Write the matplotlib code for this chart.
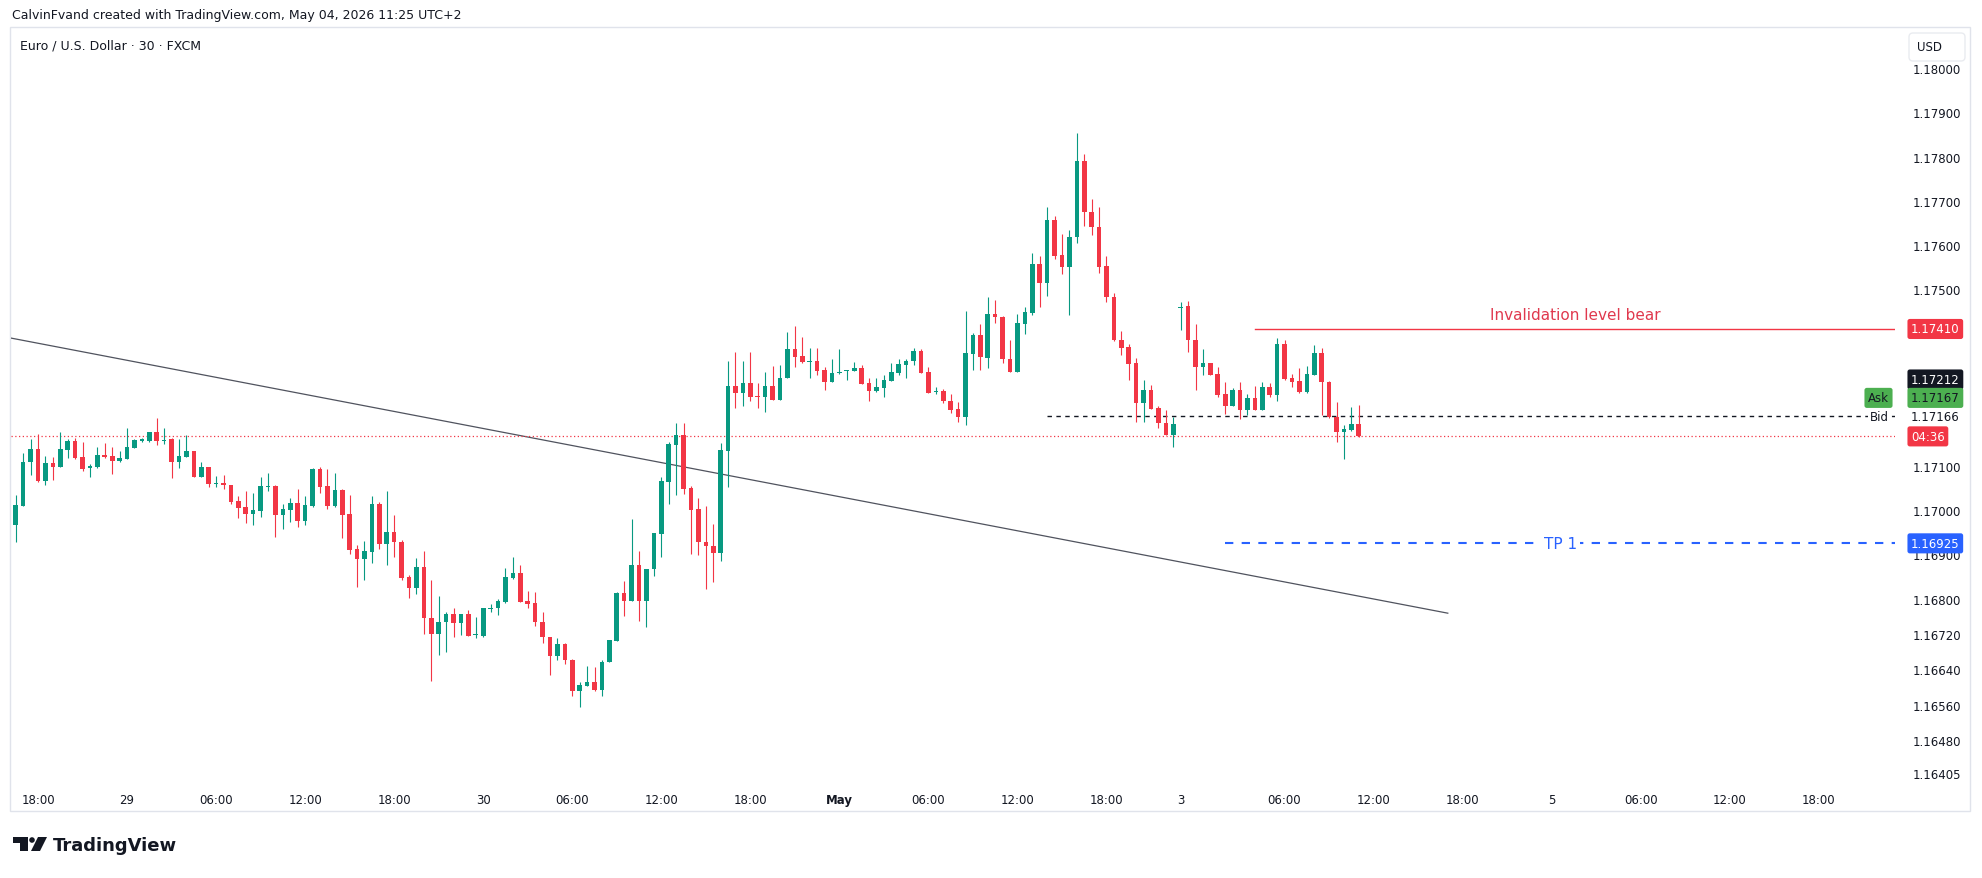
import numpy as np
import pandas as pd
import matplotlib
matplotlib.use("Agg")
import matplotlib.pyplot as plt
import matplotlib.transforms as mtransforms
from matplotlib.patches import Rectangle, FancyBboxPatch, Polygon, Circle

plt.rcParams['font.family'] = ['DejaVu Sans']

# --- data: EUR/USD 30 min candles (FXCM) ---
session1 = pd.date_range("2026-04-28 16:30", "2026-05-01 22:30", freq="30min")
session2 = pd.date_range("2026-05-03 23:00", "2026-05-04 11:00", freq="30min")
times = session1.append(session2)

opens = [
    1.16966, 1.17010, 1.17108, 1.17138, 1.17067, 1.17107, 1.17098, 1.17137, 1.17157, 1.17120,
    1.17095, 1.17098, 1.17125, 1.17123, 1.17111, 1.17116, 1.17141, 1.17157, 1.17157, 1.17176,
    1.17157, 1.17160, 1.17108, 1.17121, 1.17134, 1.17076, 1.17097, 1.17060, 1.17062, 1.17057,
    1.17020, 1.17007, 1.16992, 1.16999, 1.17053, 1.17055, 1.16990, 1.17000, 1.17016, 1.16976,
    1.17010, 1.17093, 1.17054, 1.17009, 1.17046, 1.16991, 1.16912, 1.16890, 1.16906, 1.17014,
    1.16924, 1.16950, 1.16928, 1.16849, 1.16823, 1.16872, 1.16755, 1.16721, 1.16746, 1.16765,
    1.16744, 1.16765, 1.16717, 1.16716, 1.16777, 1.16778, 1.16793, 1.16847, 1.16857, 1.16795,
    1.16790, 1.16748, 1.16712, 1.16671, 1.16697, 1.16661, 1.16590, 1.16603, 1.16611, 1.16594,
    1.16656, 1.16705, 1.16813, 1.16795, 1.16875, 1.16795, 1.16866, 1.16947, 1.17063, 1.17148,
    1.17170, 1.17050, 1.17003, 1.16927, 1.16920, 1.16903, 1.17135, 1.17282, 1.17265, 1.17288,
    1.17258, 1.17255, 1.17282, 1.17250, 1.17298, 1.17365, 1.17349, 1.17336, 1.17337, 1.17317,
    1.17289, 1.17311, 1.17315, 1.17314, 1.17322, 1.17288, 1.17270, 1.17277, 1.17293, 1.17310,
    1.17329, 1.17337, 1.17361, 1.17312, 1.17267, 1.17270, 1.17247, 1.17229, 1.17210, 1.17353,
    1.17396, 1.17345, 1.17445, 1.17437, 1.17342, 1.17312, 1.17421, 1.17446, 1.17557, 1.17513,
    1.17656, 1.17577, 1.17551, 1.17617, 1.17790, 1.17674, 1.17640, 1.17552, 1.17483, 1.17385,
    1.17369, 1.17333, 1.17243, 1.17273, 1.17231, 1.17197, 1.17169, 1.17457, 1.17461, 1.17385,
    1.17323, 1.17333, 1.17308, 1.17263, 1.17236, 1.17273, 1.17227, 1.17253, 1.17227, 1.17279,
    1.17261, 1.17376, 1.17299, 1.17292, 1.17268, 1.17306, 1.17356, 1.17291, 1.17210, 1.17178,
    1.17182, 1.17195,
]
highs = [
    1.17034, 1.17129, 1.17161, 1.17172, 1.17122, 1.17120, 1.17178, 1.17161, 1.17163, 1.17154,
    1.17104, 1.17144, 1.17152, 1.17144, 1.17133, 1.17185, 1.17160, 1.17164, 1.17177, 1.17209,
    1.17187, 1.17163, 1.17161, 1.17170, 1.17134, 1.17108, 1.17097, 1.17077, 1.17080, 1.17057,
    1.17033, 1.17043, 1.17038, 1.17074, 1.17084, 1.17057, 1.17013, 1.17027, 1.17048, 1.17031,
    1.17095, 1.17097, 1.17093, 1.17084, 1.17049, 1.17034, 1.16921, 1.16930, 1.17031, 1.17018,
    1.17043, 1.16989, 1.16933, 1.16853, 1.16892, 1.16907, 1.16842, 1.16807, 1.16769, 1.16779,
    1.16765, 1.16774, 1.16758, 1.16778, 1.16788, 1.16799, 1.16869, 1.16895, 1.16875, 1.16817,
    1.16816, 1.16769, 1.16712, 1.16710, 1.16700, 1.16663, 1.16611, 1.16647, 1.16645, 1.16661,
    1.16706, 1.16814, 1.16839, 1.16979, 1.16907, 1.16867, 1.16948, 1.17074, 1.17154, 1.17197,
    1.17197, 1.17055, 1.17027, 1.17010, 1.16969, 1.17152, 1.17337, 1.17359, 1.17338, 1.17359,
    1.17288, 1.17313, 1.17327, 1.17328, 1.17404, 1.17417, 1.17391, 1.17367, 1.17367, 1.17323,
    1.17343, 1.17365, 1.17318, 1.17336, 1.17329, 1.17299, 1.17299, 1.17307, 1.17333, 1.17342,
    1.17342, 1.17366, 1.17365, 1.17323, 1.17279, 1.17274, 1.17262, 1.17244, 1.17450, 1.17401,
    1.17421, 1.17482, 1.17475, 1.17439, 1.17386, 1.17445, 1.17459, 1.17583, 1.17574, 1.17687,
    1.17666, 1.17625, 1.17634, 1.17853, 1.17806, 1.17705, 1.17685, 1.17574, 1.17491, 1.17405,
    1.17376, 1.17344, 1.17295, 1.17284, 1.17236, 1.17227, 1.17210, 1.17472, 1.17474, 1.17421,
    1.17365, 1.17334, 1.17323, 1.17289, 1.17276, 1.17289, 1.17264, 1.17280, 1.17289, 1.17288,
    1.17390, 1.17384, 1.17308, 1.17322, 1.17327, 1.17374, 1.17368, 1.17293, 1.17244, 1.17193,
    1.17233, 1.17238,
]
lows = [
    1.16929, 1.17010, 1.17080, 1.17063, 1.17057, 1.17069, 1.17097, 1.17118, 1.17116, 1.17089,
    1.17074, 1.17095, 1.17119, 1.17083, 1.17108, 1.17116, 1.17141, 1.17155, 1.17155, 1.17148,
    1.17150, 1.17073, 1.17095, 1.17121, 1.17076, 1.17076, 1.17053, 1.17053, 1.17049, 1.17014,
    1.16982, 1.16971, 1.16967, 1.16985, 1.17043, 1.16940, 1.16958, 1.16973, 1.16963, 1.16967,
    1.17007, 1.17039, 1.17003, 1.17007, 1.16937, 1.16900, 1.16827, 1.16841, 1.16880, 1.16912,
    1.16877, 1.16895, 1.16841, 1.16802, 1.16810, 1.16719, 1.16614, 1.16672, 1.16679, 1.16712,
    1.16718, 1.16716, 1.16710, 1.16712, 1.16770, 1.16764, 1.16790, 1.16844, 1.16793, 1.16778,
    1.16737, 1.16700, 1.16628, 1.16660, 1.16651, 1.16579, 1.16554, 1.16603, 1.16592, 1.16579,
    1.16656, 1.16703, 1.16761, 1.16795, 1.16749, 1.16735, 1.16852, 1.16893, 1.17014, 1.17035,
    1.17037, 1.16902, 1.16899, 1.16822, 1.16837, 1.16884, 1.17052, 1.17232, 1.17236, 1.17248,
    1.17232, 1.17223, 1.17250, 1.17250, 1.17298, 1.17325, 1.17333, 1.17298, 1.17307, 1.17273,
    1.17289, 1.17308, 1.17295, 1.17314, 1.17286, 1.17246, 1.17268, 1.17255, 1.17293, 1.17307,
    1.17298, 1.17329, 1.17310, 1.17266, 1.17264, 1.17243, 1.17221, 1.17199, 1.17193, 1.17318,
    1.17318, 1.17322, 1.17423, 1.17333, 1.17312, 1.17312, 1.17399, 1.17442, 1.17460, 1.17485,
    1.17568, 1.17534, 1.17442, 1.17604, 1.17644, 1.17623, 1.17536, 1.17470, 1.17382, 1.17350,
    1.17295, 1.17199, 1.17199, 1.17230, 1.17187, 1.17169, 1.17144, 1.17408, 1.17357, 1.17272,
    1.17306, 1.17307, 1.17255, 1.17218, 1.17236, 1.17206, 1.17216, 1.17227, 1.17227, 1.17255,
    1.17248, 1.17295, 1.17279, 1.17265, 1.17265, 1.17306, 1.17215, 1.17208, 1.17155, 1.17116,
    1.17180, 1.17165,
]
closes = [
    1.17012, 1.17110, 1.17138, 1.17065, 1.17107, 1.17098, 1.17138, 1.17157, 1.17117, 1.17093,
    1.17101, 1.17125, 1.17120, 1.17111, 1.17117, 1.17142, 1.17159, 1.17160, 1.17176, 1.17157,
    1.17158, 1.17108, 1.17123, 1.17134, 1.17076, 1.17097, 1.17059, 1.17062, 1.17056, 1.17018,
    1.17005, 1.16992, 1.17000, 1.17054, 1.17055, 1.16990, 1.17002, 1.17016, 1.16976, 1.17012,
    1.17093, 1.17053, 1.17009, 1.17046, 1.16989, 1.16911, 1.16890, 1.16908, 1.17014, 1.16924,
    1.16950, 1.16927, 1.16847, 1.16823, 1.16872, 1.16755, 1.16721, 1.16746, 1.16765, 1.16744,
    1.16765, 1.16716, 1.16718, 1.16778, 1.16779, 1.16795, 1.16848, 1.16857, 1.16793, 1.16788,
    1.16746, 1.16712, 1.16671, 1.16697, 1.16660, 1.16590, 1.16605, 1.16611, 1.16594, 1.16656,
    1.16706, 1.16813, 1.16795, 1.16875, 1.16795, 1.16867, 1.16948, 1.17065, 1.17150, 1.17170,
    1.17048, 1.17001, 1.16927, 1.16918, 1.16903, 1.17136, 1.17282, 1.17265, 1.17288, 1.17257,
    1.17256, 1.17282, 1.17250, 1.17299, 1.17365, 1.17347, 1.17335, 1.17337, 1.17315, 1.17289,
    1.17310, 1.17313, 1.17316, 1.17322, 1.17286, 1.17270, 1.17278, 1.17295, 1.17313, 1.17331,
    1.17338, 1.17361, 1.17310, 1.17266, 1.17269, 1.17246, 1.17227, 1.17210, 1.17355, 1.17396,
    1.17346, 1.17445, 1.17436, 1.17341, 1.17313, 1.17423, 1.17448, 1.17557, 1.17513, 1.17656,
    1.17576, 1.17551, 1.17617, 1.17790, 1.17674, 1.17640, 1.17551, 1.17482, 1.17384, 1.17368,
    1.17331, 1.17243, 1.17273, 1.17230, 1.17197, 1.17169, 1.17195, 1.17459, 1.17384, 1.17323,
    1.17333, 1.17307, 1.17261, 1.17236, 1.17273, 1.17227, 1.17253, 1.17227, 1.17279, 1.17261,
    1.17376, 1.17297, 1.17291, 1.17268, 1.17308, 1.17356, 1.17289, 1.17210, 1.17178, 1.17184,
    1.17195, 1.17167,
]

# time axis labels
tick_labels = ["18:00", "29", "06:00", "12:00", "18:00", "30", "06:00", "12:00", "18:00", "May",
               "06:00", "12:00", "18:00", "3", "06:00", "12:00", "18:00", "5", "06:00", "12:00", "18:00"]
tick_times = ["2026-04-28 18:00", "2026-04-29 00:00", "2026-04-29 06:00", "2026-04-29 12:00",
              "2026-04-29 18:00", "2026-04-30 00:00", "2026-04-30 06:00", "2026-04-30 12:00",
              "2026-04-30 18:00", "2026-05-01 00:00", "2026-05-01 06:00", "2026-05-01 12:00",
              "2026-05-01 18:00", "2026-05-03 23:00", "2026-05-04 06:00", "2026-05-04 12:00",
              "2026-05-04 18:00", "2026-05-05 00:00", "2026-05-05 06:00", "2026-05-05 12:00",
              "2026-05-05 18:00"]

# price axis labels
price_ticks = [1.18000, 1.17900, 1.17800, 1.17700, 1.17600, 1.17500, 1.17100, 1.17000,
               1.16900, 1.16800, 1.16720, 1.16640, 1.16560, 1.16480, 1.16405]

# drawings
trend_times = ["2026-04-28 15:00", "2026-05-04 17:00"]
trend_prices = [1.17397, 1.16767]
invalidation_price = 1.17410
invalidation_start = "2026-05-04 04:00"
tp1_price = 1.16925
tp1_start = "2026-05-04 02:00"
hline_price = 1.17212
hline_start = "2026-05-01 14:00"
ask_price = 1.17167
bid_price = 1.17166
countdown = "04:36"

UP = '#089981'
DOWN = '#F23645'
TXT = '#131722'
W, H = 1982, 879
PX = mtransforms.IdentityTransform()

step = pd.Timedelta(minutes=30)


def bar_pos(t):
    t = pd.Timestamp(t)
    if t in times:
        return times.get_loc(t)
    if t < times[0]:
        return (t - times[0]) / step
    return len(times) - 1 + (t - times[-1]) / step


fig = plt.figure(figsize=(W / 100, H / 100), dpi=100)
fig.patch.set_facecolor('white')
ax = fig.add_axes([11 / W, 1 - 784 / H, (1895 - 11) / W, (784 - 28) / H])
ax.patch.set_visible(False)
for s in ax.spines.values():
    s.set_visible(False)

# candles
o, h, l, c = map(np.array, (opens, highs, lows, closes))
idx = np.arange(len(times))
cols = np.where(c >= o, UP, DOWN)
ax.vlines(idx, l, h, colors=cols, linewidth=0.8, zorder=3)
ax.bar(idx, np.maximum(np.abs(c - o), 0.00002), bottom=np.minimum(o, c), width=0.62,
       color=cols, linewidth=0, zorder=3)

xmin, xmax = -0.64, 253.27
ax.set_xlim(xmin, xmax)
ax.set_ylim(1.163828, 1.180932)

# trend line
ax.plot([bar_pos(t) for t in trend_times], trend_prices, color='#50535e', lw=0.9, zorder=2)

# current price (dotted)
ax.axhline(closes[-1], color=DOWN, lw=0.9, ls=(0, (1, 2)), zorder=2)

# horizontal ray at 1.17212
ax.plot([bar_pos(hline_start), xmax], [hline_price] * 2, color='#131722', lw=1.0,
        ls=(0, (3.2, 3.2)), zorder=2)

# invalidation level
x0 = bar_pos(invalidation_start)
ax.plot([x0, xmax], [invalidation_price] * 2, color=DOWN, lw=1.0, zorder=2)
ax.annotate("Invalidation level bear", xy=((x0 + xmax) / 2, invalidation_price),
            xytext=(0, 14), textcoords='offset pixels', ha='center', va='center',
            fontsize=11, color='#e0394e')

# TP 1
x0 = bar_pos(tp1_start)
ax.plot([x0, xmax], [tp1_price] * 2, color='#2962FF', lw=1.5, ls=(0, (4, 4)), zorder=2)
ax.text((x0 + xmax) / 2, tp1_price, "TP 1", ha='center', va='center', fontsize=11,
        color='#2962FF', zorder=4,
        bbox=dict(boxstyle='square,pad=0.25', fc='white', ec='none'))

# axes ticks
ax.yaxis.tick_right()
ax.set_yticks(price_ticks)
ax.set_yticklabels([f"{p:.5f}" for p in price_ticks])
ax.tick_params(axis='y', length=0, pad=13, labelsize=8.5, labelcolor=TXT)
ax.set_xticks([bar_pos(t) for t in tick_times])
ax.set_xticklabels(tick_labels)
ax.tick_params(axis='x', length=0, pad=7, labelsize=8.5, labelcolor=TXT)
for lab in ax.get_xticklabels():
    if lab.get_text() == "May":
        lab.set_fontweight('bold')


def price_tag(text, price, dy, fc, tc):
    ax.annotate(text, xy=(1, price), xycoords=('axes fraction', 'data'),
                xytext=(16, dy), textcoords='offset pixels', ha='left', va='center',
                fontsize=8.5, color=tc, annotation_clip=False, zorder=6,
                bbox=dict(boxstyle='round,pad=0.3,rounding_size=0.2', fc=fc, ec='none'))


price_tag(f"{invalidation_price:.5f}", invalidation_price, 0, DOWN, 'white')
price_tag(f"{hline_price:.5f}", hline_price, 37, '#131722', 'white')
price_tag(f"{ask_price:.5f}", ask_price, 38.5, '#4CAF50', TXT)
price_tag(countdown, closes[-1], 0, DOWN, 'white')
price_tag(f"{tp1_price:.5f}", tp1_price, 0, '#2962FF', 'white')
ax.annotate(f"{bid_price:.5f}", xy=(1, bid_price), xycoords=('axes fraction', 'data'),
            xytext=(16, 20), textcoords='offset pixels', ha='left', va='center',
            fontsize=8.5, color=TXT, annotation_clip=False)
ax.annotate("Ask", xy=(1, ask_price), xycoords=('axes fraction', 'data'),
            xytext=(-6, 38.5), textcoords='offset pixels', ha='right', va='center',
            fontsize=8.5, color=TXT, annotation_clip=False, zorder=6,
            bbox=dict(boxstyle='round,pad=0.3,rounding_size=0.2', fc='#4CAF50', ec='none'))
ax.annotate("Bid", xy=(1, bid_price), xycoords=('axes fraction', 'data'),
            xytext=(-6, 20), textcoords='offset pixels', ha='right', va='center',
            fontsize=8.5, color=TXT, annotation_clip=False, zorder=6,
            bbox=dict(boxstyle='square,pad=0.15', fc='white', ec='none'))

# chart frame and header
fig.add_artist(Rectangle((10, H - 812), 1960, 784, transform=PX, fill=False,
                         ec='#E0E3EB', lw=1, zorder=0))
fig.add_artist(FancyBboxPatch((1909, H - 62), 56, 28, transform=PX,
                              boxstyle='round,pad=0,rounding_size=4',
                              fc='white', ec='#E9EBF0', lw=1, zorder=5))
fig.text(1930, H - 48, "USD", transform=PX, ha='center', va='center', fontsize=8.5,
         color=TXT, zorder=6)
fig.text(12, H - 16, "CalvinFvand created with TradingView.com, May 04, 2026 11:25 UTC+2",
         transform=PX, ha='left', va='center', fontsize=9, color=TXT)
fig.text(20, H - 46, "Euro / U.S. Dollar · 30 · FXCM", transform=PX, ha='left',
         va='center', fontsize=9, color=TXT)

# TradingView logo
fig.add_artist(Polygon([(13, H - 838), (28, H - 838), (28, H - 852), (20, H - 852),
                        (20, H - 844), (13, H - 844)], closed=True, transform=PX,
                       fc='#131722', ec='none'))
fig.add_artist(Circle((32, H - 841), 2.8, transform=PX, fc='#131722', ec='none'))
fig.add_artist(Polygon([(38, H - 838), (47, H - 838), (40, H - 852), (31, H - 852)],
                       closed=True, transform=PX, fc='#131722', ec='none'))
fig.text(53, H - 846, "TradingView", transform=PX, ha='left', va='center', fontsize=13,
         fontweight='bold', color='#131722')

fig.savefig("out.png", dpi=100)
